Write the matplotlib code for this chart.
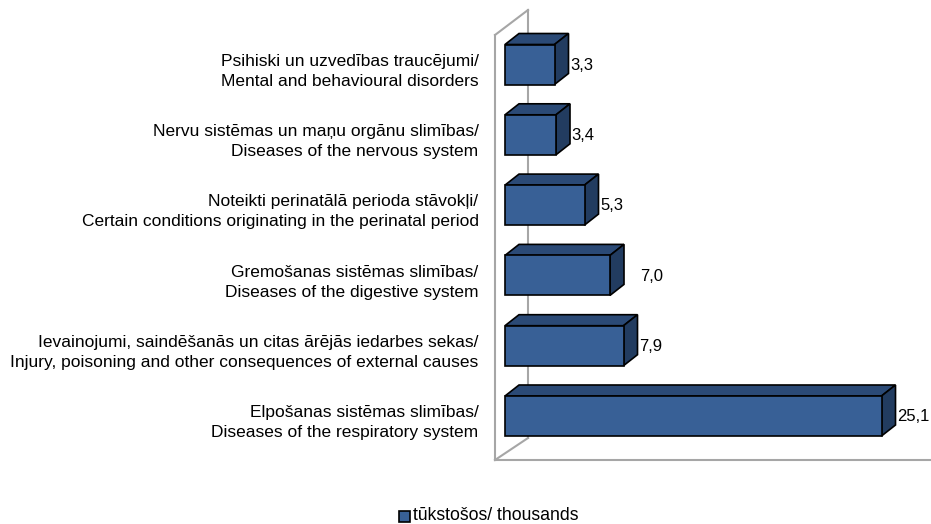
import matplotlib.pyplot as plt
from matplotlib.patches import Polygon, Rectangle

plt.rcParams['font.family'] = ['Liberation Sans', 'DejaVu Sans']

# data, bottom to top
labels = [
    "Elpošanas sistēmas slimības/\nDiseases of the respiratory system",
    "Ievainojumi, saindēšanās un citas ārējās iedarbes sekas/\nInjury, poisoning and other consequences of external causes",
    "Gremošanas sistēmas slimības/\nDiseases of the digestive system",
    "Noteikti perinatālā perioda stāvokļi/\nCertain conditions originating in the perinatal period",
    "Nervu sistēmas un maņu orgānu slimības/\nDiseases of the nervous system",
    "Psihiski un uzvedības traucējumi/\nMental and behavioural disorders",
]
values = [25.1, 7.9, 7.0, 5.3, 3.4, 3.3]
value_text = ["25,1", "7,9", "7,0", "5,3", "3,4", "3,3"]

front = "#386096"
top = "#2b4a76"
side = "#223c60"

W, H = 931, 524
fig = plt.figure(figsize=(W / 100, H / 100), dpi=100)
# axes from pixel x=480..931, y=0..470 (top-down); 15 px per unit, 70.3 px per row
ax = fig.add_axes([480 / W, (H - 470) / H, 451 / W, 470 / H])
ax.set_xlim(-25 / 15, 426 / 15)
ax.set_ylim(-54 / 70.3, 416 / 70.3)
for s in ax.spines.values():
    s.set_visible(False)
ax.set_xticks([])

# walls (gray 3D frame)
gray = "#a6a6a6"
wx0, wx1 = -10 / 15, 23 / 15
y_floor_front, y_floor_back = -44 / 70.3, -22 / 70.3
y_top_front, y_top_back = 381 / 70.3, 406 / 70.3
ax.plot([wx0, wx0], [y_floor_front, y_top_front], color=gray, lw=1.5, zorder=1)
ax.plot([wx0, wx1], [y_top_front, y_top_back], color=gray, lw=1.5, zorder=1)
ax.plot([wx1, wx1], [y_floor_back, y_top_back], color=gray, lw=1.5, zorder=1)
ax.plot([wx0, wx1], [y_floor_front, y_floor_back], color=gray, lw=1.5, zorder=1)
ax.plot([wx0, 30], [y_floor_front, y_floor_front], color=gray, lw=1.5, zorder=1,
        clip_on=False)

h = 40 / 70.3
dx, dy = 14 / 15, 11 / 70.3
for i, v in enumerate(values):
    y0, y1 = i - h / 2, i + h / 2
    ax.add_patch(Polygon([(0, y1), (v, y1), (v + dx, y1 + dy), (dx, y1 + dy)],
                         closed=True, fc=top, ec="black", lw=1.2, zorder=3))
    ax.add_patch(Polygon([(v, y0), (v + dx, y0 + dy), (v + dx, y1 + dy), (v, y1)],
                         closed=True, fc=side, ec="black", lw=1.2, zorder=3))
    ax.add_patch(Rectangle((0, y0), v, h, fc=front, ec="black", lw=1.2, zorder=4))
    pad = 1.05 if value_text[i] == "7,0" else 0.1
    ax.text(v + dx + pad, i - 0.01, value_text[i], ha="left", va="center",
            fontsize=12, zorder=5)

ax.set_yticks([i - 0.04 for i in range(len(labels))])
ax.set_yticklabels(labels, fontsize=12.5, linespacing=1.42)
ax.tick_params(axis="y", length=0, pad=1)

# legend
fig.patches.append(Rectangle((399 / W, (H - 522) / H), 11 / W, 11 / H,
                             transform=fig.transFigure, fc=front, ec="black", lw=1.2))
fig.text(413 / W, (H - 516) / H, "tūkstošos/ thousands", fontsize=12.7,
         ha="left", va="center")

fig.savefig("out.png", dpi=100)
